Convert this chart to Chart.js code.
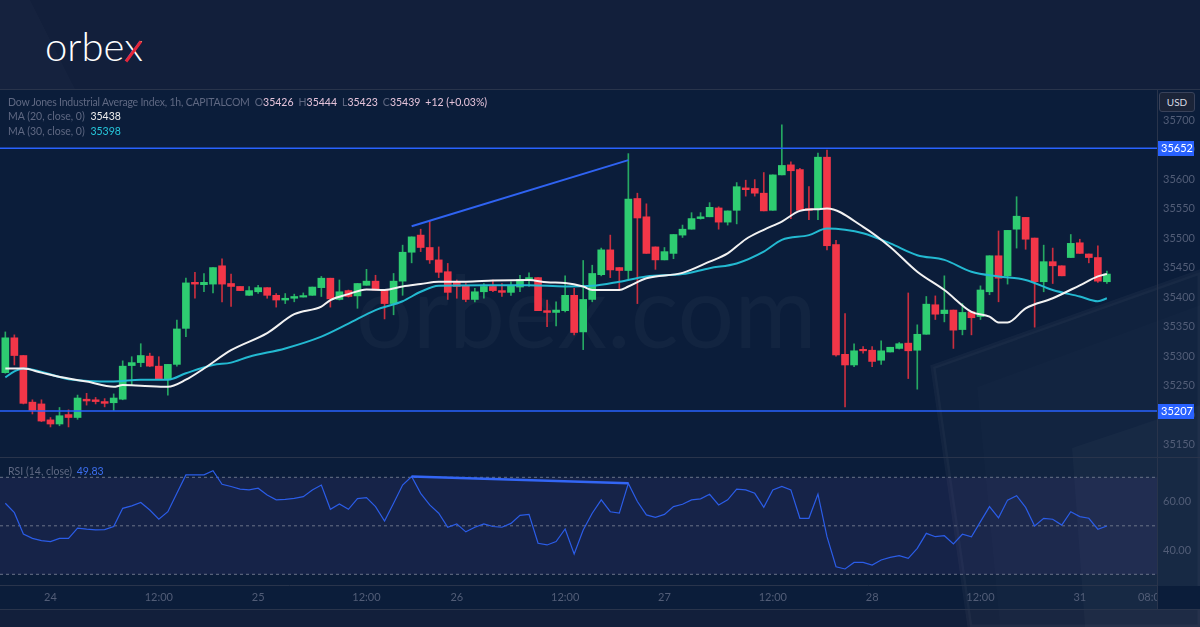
<!DOCTYPE html>
<html><head><meta charset="utf-8">
<script src="https://cdn.jsdelivr.net/npm/chart.js@4.4.0/dist/chart.umd.min.js"></script>
<style>
html,body{margin:0;padding:0;}
body{width:1200px;height:627px;background:#121f3b;position:relative;overflow:hidden;font-family:Lato,"Noto Sans",sans-serif;}
#panel{position:absolute;left:0;top:89px;width:1200px;height:521px;background:#0b1d3a;}
.hl{position:absolute;left:0;width:1200px;height:1px;background:#29344b;}
.vl{position:absolute;top:89px;width:1px;height:521px;background:#29344b;left:1157px;}
.t{position:absolute;font-size:10.5px;color:#5f6882;white-space:nowrap;line-height:14px;}
.t span.g{margin-left:5px;}
.v{color:#e4c3da;}
canvas{position:absolute;left:0;}
#wm{position:absolute;left:356px;top:259px;font-size:100px;line-height:100px;color:rgba(255,255,255,0.032);white-space:nowrap;}
#logo{position:absolute;left:45px;top:26px;font-size:40px;line-height:40px;color:#ffffff;white-space:nowrap;font-weight:300;}
#usd{position:absolute;left:1159px;top:92px;width:36px;height:20px;box-sizing:border-box;border:1px solid #39425a;border-radius:3px;background:#1b2438;color:#d7dae2;font-size:10px;line-height:18px;text-align:center;}
</style></head>
<body>
<div id="panel"></div>
<svg width="1200" height="627" style="position:absolute;left:0;top:0">
  <polygon points="0,0 30,0 75,89 0,89" fill="rgba(255,255,255,0.015)"/>
  <polygon points="933,367 1200,272 1200,627 970,627" fill="rgba(255,255,255,0.022)" stroke="rgba(255,255,255,0.035)" stroke-width="5"/>
  <polygon points="977,387 1200,305 1200,627 1000,627" fill="rgba(255,255,255,0.012)"/>
  <polygon points="1072,448 1200,405 1200,627 1085,627" fill="rgba(255,255,255,0.025)"/>
</svg>
<div id="wm">orbex.com</div>
<div class="hl" style="top:89px"></div>
<div class="hl" style="top:457px"></div>
<div class="hl" style="top:609px"></div>
<canvas id="c1" width="1200" height="368" style="top:89px"></canvas>
<canvas id="c2" width="1200" height="152" style="top:457px"></canvas>
<div class="vl"></div>
<div id="logo">orbe<span id="lx">x</span></div>
<div id="redx" style="position:absolute;background:#e5263a;height:3px;transform-origin:center;"></div>
<div class="t" style="left:8px;top:95px"><span style="letter-spacing:-0.2px">Dow Jones Industrial Average Index, 1h, CAPITALCOM</span><span class="g">O<span class="v">35426</span></span><span class="g">H<span class="v">35444</span></span><span class="g">L<span class="v">35423</span></span><span class="g">C<span class="v">35439</span></span><span class="g v">+12 (+0.03%)</span></div>
<div class="t" style="left:8px;top:109px">MA (20, close, 0) <span style="color:#eeeeee;margin-left:3px">35438</span></div>
<div class="t" style="left:8px;top:124px">MA (30, close, 0) <span style="color:#26c6da;margin-left:3px">35398</span></div>
<div class="t" style="left:8px;top:464px">RSI (14, close) <span style="color:#3d6ff0;margin-left:2px">49.83</span></div>
<div id="usd">USD</div>
<script>
// ---------- DATA ----------
const openP = [35272,35331,35301,35222,35219,35192,35185,35201,35196,35227, 35226,35223,35221,35227,35284,35289,35300,35283,35261,35286, 35347,35425,35421,35422,35453,35423,35418,35403,35409,35416, 35403,35395,35398,35400,35403,35416,35432,35396,35411,35402, 35420,35427,35413,35389,35427,35476,35505,35484,35463,35443, 35425,35419,35396,35409,35418,35411,35408,35417,35429,35433, 35377,35374,35377,35403,35341,35396,35438,35480,35450,35445, 35567,35536,35485,35463,35474,35505,35515,35533,35536,35551, 35527,35547,35585,35584,35576,35547,35607,35624,35616,35550, 35550,35637,35489,35303,35285,35311,35310,35293,35307,35313, 35322,35310,35337,35387,35372,35378,35345,35375,35367,35409, 35470,35436,35515,35535,35500,35426,35460,35453,35467,35492, 35473,35467,35426];
const highP = [35341,35336,35301,35226,35226,35196,35213,35209,35234,35237, 35230,35228,35236,35292,35299,35321,35305,35299,35286,35361, 35432,35442,35440,35450,35465,35439,35418,35418,35420,35416, 35406,35406,35405,35407,35417,35435,35432,35429,35412,35423, 35447,35437,35413,35440,35488,35502,35515,35529,35485,35457, 35429,35423,35415,35423,35429,35423,35426,35437,35441,35433, 35395,35392,35436,35415,35462,35454,35483,35505,35450,35643, 35576,35558,35485,35484,35506,35522,35543,35543,35560,35553, 35546,35594,35598,35599,35611,35607,35692,35629,35618,35587, 35644,35649,35496,35372,35321,35316,35316,35326,35315,35323, 35407,35353,35401,35402,35436,35378,35389,35375,35419,35470, 35512,35513,35570,35535,35500,35488,35483,35453,35506,35498, 35473,35487,35444];
const lowP = [35271,35285,35219,35202,35189,35180,35182,35180,35193,35217, 35219,35214,35208,35226,35251,35282,35282,35261,35234,35283, 35333,35398,35409,35407,35392,35384,35411,35403,35406,35398, 35383,35389,35392,35400,35403,35401,35383,35395,35400,35381, 35420,35412,35363,35370,35403,35458,35477,35457,35433,35396, 35398,35392,35392,35398,35409,35401,35403,35409,35418,35377, 35350,35351,35375,35336,35311,35392,35436,35433,35411,35429, 35389,35474,35447,35463,35465,35501,35515,35532,35536,35515, 35522,35524,35571,35571,35546,35547,35607,35533,35547,35531, 35531,35480,35300,35214,35282,35305,35282,35286,35307,35312, 35262,35244,35337,35362,35358,35313,35336,35336,35362,35404, 35392,35422,35483,35481,35349,35409,35423,35436,35467,35474, 35458,35425,35423];
const closeP = [35331,35301,35220,35208,35190,35185,35199,35196,35229,35224, 35223,35220,35229,35283,35289,35301,35283,35261,35286,35346, 35424,35422,35425,35450,35422,35418,35411,35411,35416,35403, 35395,35398,35401,35402,35417,35432,35397,35409,35401,35423, 35427,35412,35389,35427,35476,35502,35484,35463,35442,35408, 35418,35396,35409,35418,35411,35408,35419,35430,35433,35377, 35374,35378,35403,35340,35396,35440,35480,35446,35445,35566, 35534,35474,35463,35477,35506,35515,35533,35536,35552,35527, 35546,35587,35582,35576,35546,35607,35623,35614,35547,35547, 35637,35487,35302,35285,35309,35309,35291,35309,35315,35321, 35309,35337,35388,35371,35378,35344,35374,35365,35412,35470, 35432,35513,35537,35498,35426,35460,35453,35436,35491,35474, 35467,35427,35439];

const ma20Idx = [0,2,4,7,9,12,13,15,18,20,22,25,29,32,35,36,38,40,42,44,46,48,51,54,58,60,62,64,65,68,69,71,75,78,80,82,84,86,88,90,91,95,98,101,104,107,109,110,111,113,116,119,121,122];
const ma20Val = [35279,35279,35272,35262,35257,35248,35251,35250,35248,35260,35279,35310,35339,35371,35384,35395,35405,35413,35412,35418,35422,35426,35426,35428,35429,35425,35424,35418,35412,35412,35418,35432,35441,35460,35474,35498,35514,35528,35546,35549,35550,35519,35485,35443,35412,35375,35367,35357,35357,35381,35398,35420,35435,35439];
const ma30Idx = [0,1,2,7,12,15,18,20,23,25,27,31,35,38,41,44,46,48,53,58,62,65,68,71,75,78,81,84,86,89,91,93,95,98,101,104,107,110,113,116,119,121,122];
const ma30Val = [35264,35274,35279,35261,35257,35260,35260,35271,35285,35289,35299,35313,35333,35355,35378,35393,35409,35419,35420,35420,35418,35419,35426,35435,35439,35449,35457,35477,35497,35505,35516,35514,35508,35491,35471,35463,35443,35435,35429,35412,35401,35393,35398];

const rsiVal = [59.3,55.4,46.6,44.8,43.9,43.5,44.8,44.8,49.0,48.6, 48.3,48.4,49.7,57.2,58.2,59.6,56.5,52.7,55.8,63.4, 71.0,71.0,71.0,72.7,67.1,66.2,65.1,64.8,65.5,62.7, 60.7,60.9,61.3,62.0,64.8,66.8,56.8,59.0,56.8,61.2, 61.6,57.9,52.0,59.3,66.8,70.3,63.4,58.6,55.2,49.4, 50.8,47.5,49.4,50.8,49.7,49.4,51.0,54.3,54.7,42.8, 42.1,43.5,48.7,38.4,48.3,55.2,60.7,55.8,55.2,67.5, 60.0,54.5,53.5,54.7,57.9,58.9,60.7,61.1,63.0,58.6, 60.7,65.1,64.8,63.4,57.6,64.8,66.2,64.8,53.1,53.1, 63.1,45.5,33.1,32.2,34.9,34.9,33.8,35.9,37.0,37.7, 36.6,40.7,46.9,45.5,45.9,42.5,46.5,45.5,51.7,57.9, 53.3,60.6,62.4,57.6,49.9,53.1,52.7,50.3,55.8,53.8, 53.1,48.6,49.9];

const levels = [35652, 35207];
const trendIdx = [45, 69];
const trendVal = [35520, 35632];
const rsiTrendIdx = [45, 69];
const rsiTrendVal = [70.3, 67.5];
const rsiLevels = [70, 50, 30];
const priceTicks = [35150,35200,35250,35300,35350,35400,35450,35500,35550,35600,35650,35700];
const rsiTicks = [40, 60];
const xTickIdx = [5,17,28,40,50,62,73,85,96,108,119,127];
const xTickLabels = ['24','12:00','25','12:00','26','12:00','27','12:00','28','12:00','31','08:00'];

// ---------- SETUP ----------
const GREEN = '#2ecc71', RED = '#f23648', GREENW = '#25a862', REDW = '#c92e3e';
const X_MIN = -0.59, X_MAX = 127.55;
Chart.defaults.font.family = 'Lato, "Noto Sans", sans-serif';
Chart.defaults.font.size = 11;
const idx = openP.map((_, i) => i);
const up = idx.map(i => closeP[i] >= openP[i]);
const tickColor = '#525d77';

const levelLabels = {
  id: 'levelLabels',
  afterDraw(chart) {
    const {ctx, scales: {y}, chartArea} = chart;
    ctx.save();
    levels.forEach(v => {
      const py = Math.round(y.getPixelForValue(v));
      ctx.fillStyle = '#2962ff';
      ctx.fillRect(chartArea.right + 1, py - 7, 36, 15);
      ctx.fillStyle = '#ffffff';
      ctx.font = '11px Lato, "Noto Sans", sans-serif';
      ctx.textBaseline = 'middle';
      ctx.textAlign = 'left';
      ctx.fillText(String(v), chartArea.right + 4, py + 0.5);
    });
    ctx.restore();
  }
};

const lineDs = (data, color, w, extra) => Object.assign({type: 'line', data, borderColor: color, borderWidth: w, pointRadius: 0, fill: false, order: 0}, extra || {});

new Chart(document.getElementById('c1'), {
  type: 'bar',
  data: {
    datasets: [
      lineDs([{x: X_MIN, y: levels[0]}, {x: X_MAX, y: levels[0]}], '#2962ff', 1.5),
      lineDs([{x: X_MIN, y: levels[1]}, {x: X_MAX, y: levels[1]}], '#2962ff', 1.5),
      lineDs(trendIdx.map((x, i) => ({x, y: trendVal[i]})), '#2f63f2', 2),
      lineDs(ma20Idx.map((x, i) => ({x, y: ma20Val[i]})), '#f2f2f2', 2, {cubicInterpolationMode: 'monotone'}),
      lineDs(ma30Idx.map((x, i) => ({x, y: ma30Val[i]})), '#23b9d1', 2, {cubicInterpolationMode: 'monotone'}),
      {type: 'bar', data: idx.map(i => ({x: i, y: [openP[i], closeP[i]]})), backgroundColor: idx.map(i => up[i] ? GREEN : RED), barThickness: 7, minBarLength: 1.5, grouped: false, order: 1},
      {type: 'bar', data: idx.map(i => ({x: i, y: [lowP[i], highP[i]]})), backgroundColor: idx.map(i => up[i] ? GREENW : REDW), barThickness: 1, grouped: false, order: 2}
    ]
  },
  options: {
    responsive: false, animation: false, devicePixelRatio: 1,
    layout: {padding: 0},
    plugins: {legend: {display: false}, tooltip: {enabled: false}},
    scales: {
      x: {type: 'linear', min: X_MIN, max: X_MAX, display: false, offset: false},
      y: {
        position: 'right', min: 35129.1, max: 35752.5,
        grid: {display: false, drawTicks: false},
        border: {display: false},
        ticks: {color: tickColor, padding: 6, callback: v => String(v)},
        afterBuildTicks: s => { s.ticks = priceTicks.map(v => ({value: v})); },
        afterFit: s => { s.width = 43; s.paddingTop = 0; s.paddingBottom = 0; }
      }
    }
  },
  plugins: [levelLabels]
});

const rsiBand = {
  id: 'rsiBand',
  beforeDatasetsDraw(chart) {
    const {ctx, scales: {y}, chartArea} = chart;
    const t = y.getPixelForValue(70), b = y.getPixelForValue(30);
    ctx.save();
    ctx.fillStyle = 'rgba(126,87,194,0.10)';
    ctx.fillRect(chartArea.left, t, chartArea.right - chartArea.left, b - t);
    ctx.restore();
  },
  afterDraw(chart) {
    const {ctx, chartArea} = chart;
    ctx.save();
    ctx.fillStyle = '#0b1d3a';
    ctx.fillRect(chartArea.right + 1, chartArea.bottom + 1, 50, 30);
    ctx.restore();
  }
};

new Chart(document.getElementById('c2'), {
  type: 'line',
  data: {
    datasets: [
      ...rsiLevels.map(v => lineDs([{x: X_MIN, y: v}, {x: X_MAX, y: v}], '#6a7388', 1, {borderDash: [3, 3], order: 2})),
      lineDs(idx.map(i => ({x: i, y: rsiVal[i]})), '#2b5de8', 1.2, {order: 1}),
      lineDs(rsiTrendIdx.map((x, i) => ({x, y: rsiTrendVal[i]})), '#3366f5', 2.5)
    ]
  },
  options: {
    responsive: false, animation: false, devicePixelRatio: 1,
    layout: {padding: 0},
    plugins: {legend: {display: false}, tooltip: {enabled: false}},
    scales: {
      x: {
        type: 'linear', min: X_MIN, max: X_MAX, offset: false,
        grid: {display: false, drawTicks: false},
        border: {display: true, color: '#29344b'},
        ticks: {color: tickColor, padding: 6, maxRotation: 0, autoSkip: false, callback: (v, i) => xTickLabels[i]},
        afterBuildTicks: s => { s.ticks = xTickIdx.map(v => ({value: v})); },
        afterFit: s => { s.height = 24; s.paddingLeft = 0; s.paddingRight = 0; }
      },
      y: {
        position: 'right', min: 25.59, max: 78.37,
        grid: {display: false, drawTicks: false},
        border: {display: false},
        ticks: {color: tickColor, padding: 6, callback: v => v.toFixed(2)},
        afterBuildTicks: s => { s.ticks = rsiTicks.map(v => ({value: v})); },
        afterFit: s => { s.width = 43; s.paddingTop = 0; s.paddingBottom = 0; }
      }
    }
  },
  plugins: [rsiBand]
});

// logo red stroke over the x
const r = document.getElementById('lx').getBoundingClientRect();
const rx = document.getElementById('redx');
const base = r.top + 39;
const x1 = r.left + 2, y1 = base, x2 = r.right - 2, y2 = base - 20;
const len = Math.hypot(x2 - x1, y2 - y1);
rx.style.width = len + 'px';
rx.style.left = ((x1 + x2) / 2 - len / 2) + 'px';
rx.style.top = ((y1 + y2) / 2 - 1.5) + 'px';
rx.style.transform = 'rotate(' + Math.atan2(y2 - y1, x2 - x1) + 'rad)';
</script>
</body></html>
